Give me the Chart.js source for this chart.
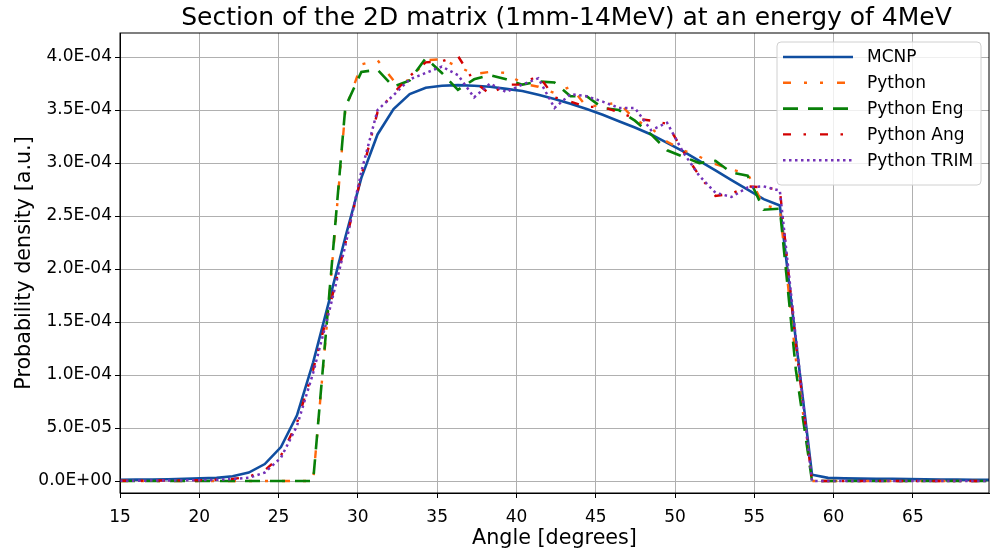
<!DOCTYPE html>
<html>
<head>
<meta charset="utf-8">
<script src="https://cdn.jsdelivr.net/npm/chart.js@4"></script>
<style>
  html, body { margin: 0; padding: 0; background: #fff; }
</style>
</head>
<body>
<canvas id="sectionChart" width="995" height="552"></canvas>
<script>
Chart.defaults.font.family = 'DejaVu Sans';
Chart.defaults.color = '#000';

// angle bins [degrees]
const angles = [
    15.00, 16.01, 17.03, 18.04, 19.06, 20.07, 21.09, 22.10, 23.12, 24.13,
    25.15, 26.16, 27.18, 28.19, 29.21, 30.22, 31.24, 32.25, 33.27, 34.28,
    35.30, 36.31, 37.33, 38.34, 39.36, 40.37, 41.38, 42.40, 43.41, 44.43,
    45.44, 46.46, 47.47, 48.49, 49.50, 50.52, 51.53, 52.55, 53.56, 54.58,
    55.59, 56.61, 57.62, 58.64, 59.65, 60.67, 61.68, 62.70, 63.71, 64.73,
    65.74, 66.76, 67.77, 68.79, 69.80
];

// probability density, in units of 1e-4
const mcnp = [
    0.012, 0.013, 0.015, 0.017, 0.020, 0.025, 0.030, 0.045, 0.080, 0.160,
    0.320, 0.620, 1.120, 1.700, 2.300, 2.860, 3.270, 3.510, 3.650, 3.710,
    3.730, 3.735, 3.730, 3.720, 3.700, 3.680, 3.645, 3.605, 3.560, 3.510,
    3.455, 3.395, 3.335, 3.270, 3.190, 3.110, 3.020, 2.930, 2.840, 2.750,
    2.660, 2.600, 1.330, 0.060, 0.030, 0.025, 0.023, 0.021, 0.020, 0.018,
    0.016, 0.015, 0.013, 0.012, 0.011
];
const python = [
    0, 0, 0, 0, 0, 0, 0, 0, 0, 0,
    0, 0, 0, 1.72, 3.50, 3.93, 3.97, 3.78, 3.78, 3.97,
    3.98, 3.91, 3.84, 3.86, 3.85, 3.75, 3.72, 3.66, 3.72, 3.53,
    3.55, 3.57, 3.41, 3.33, 3.20, 3.12, 3.06, 2.99, 2.94, 2.90,
    2.60, 2.57, 1.15, 0, 0, 0, 0, 0, 0, 0,
    0, 0, 0, 0, 0
];
const pythonEng = [
    0, 0, 0, 0, 0, 0, 0, 0, 0, 0,
    0, 0, 0, 1.75, 3.53, 3.86, 3.88, 3.72, 3.78, 3.99,
    3.85, 3.69, 3.79, 3.83, 3.79, 3.74, 3.77, 3.76, 3.63, 3.63,
    3.52, 3.50, 3.40, 3.27, 3.12, 3.06, 3.00, 3.02, 2.91, 2.88,
    2.56, 2.57, 1.05, 0, 0, 0, 0, 0, 0, 0,
    0, 0, 0, 0, 0
];
const pythonAng = [
    0.003, 0.003, 0.004, 0.005, 0.006, 0.008, 0.012, 0.020, 0.040, 0.100,
    0.240, 0.550, 1.050, 1.630, 2.240, 2.880, 3.480, 3.660, 3.820, 3.950,
    3.960, 4.010, 3.770, 3.650, 3.740, 3.740, 3.830, 3.620, 3.580, 3.530,
    3.530, 3.480, 3.420, 3.400, 3.370, 3.110, 2.880, 2.690, 2.710, 2.780,
    2.770, 2.750, 1.300, 0, 0, 0, 0, 0, 0, 0,
    0, 0, 0, 0, 0
];
const pythonTrim = [
    0.003, 0.003, 0.004, 0.005, 0.006, 0.008, 0.011, 0.018, 0.030, 0.080,
    0.220, 0.520, 1.020, 1.600, 2.220, 2.920, 3.500, 3.640, 3.790, 3.850,
    3.910, 3.830, 3.620, 3.750, 3.670, 3.740, 3.800, 3.520, 3.650, 3.630,
    3.580, 3.520, 3.520, 3.310, 3.380, 3.100, 2.880, 2.720, 2.680, 2.770,
    2.780, 2.740, 1.350, 0, 0, 0, 0, 0, 0, 0,
    0, 0, 0, 0, 0
];

const xTicks = [15, 20, 25, 30, 35, 40, 45, 50, 55, 60, 65];
const yTicks = [0, 0.5e-4, 1.0e-4, 1.5e-4, 2.0e-4, 2.5e-4, 3.0e-4, 3.5e-4, 4.0e-4];

function toPoints(vals) {
    return angles.map((a, i) => ({ x: a, y: vals[i] * 1e-4 }));
}

function sciLabel(v) {
    const [mant, exp] = Number(v).toExponential(1).split('e');
    const sign = exp[0] === '-' ? '-' : '+';
    const digits = exp.replace(/[+-]/, '').padStart(2, '0');
    return mant + 'E' + sign + digits;
}

// matplotlib style legend box inside the axes, upper right
const legendBox = {
    id: 'legendBox',
    afterLayout(chart) {
        // title sits a little right of the axes centre in the original
        chart.titleBlock.left += 12;
        chart.titleBlock.right += 12;
    },
    afterDraw(chart) {
        const { ctx, chartArea } = chart;
        const sets = chart.data.datasets;
        const w = 204, rowH = 25.8;
        const h = 14 + rowH * sets.length;
        const left = chartArea.right - 8 - w;
        const top = chartArea.top + 9;

        ctx.save();
        ctx.beginPath();
        ctx.roundRect(left, top, w, h, 4);
        ctx.fillStyle = 'rgba(255,255,255,0.8)';
        ctx.fill();
        ctx.strokeStyle = '#d0d0d0';
        ctx.lineWidth = 1;
        ctx.stroke();

        ctx.font = '17px "DejaVu Sans"';
        ctx.textBaseline = 'middle';
        sets.forEach((ds, i) => {
            const y = top + 15 + i * rowH;
            ctx.beginPath();
            ctx.setLineDash(ds.borderDash || []);
            ctx.strokeStyle = ds.borderColor;
            ctx.lineWidth = ds.borderWidth;
            ctx.moveTo(left + 6, y);
            ctx.lineTo(left + 76, y);
            ctx.stroke();
            ctx.setLineDash([]);
            ctx.fillStyle = '#000';
            ctx.fillText(ds.label, left + 90, y + 1);
        });
        ctx.restore();
    }
};

// top and right spines
const frame = {
    id: 'frame',
    afterDraw(chart) {
        const { ctx, chartArea } = chart;
        ctx.save();
        ctx.strokeStyle = '#000';
        ctx.lineWidth = 1;
        ctx.strokeRect(chartArea.left, chartArea.top, chartArea.right - chartArea.left, chartArea.bottom - chartArea.top);
        ctx.restore();
    }
};

new Chart(document.getElementById('sectionChart'), {
    type: 'line',
    data: {
        datasets: [
            {
                label: 'MCNP',
                data: toPoints(mcnp),
                borderColor: 'rgb(16, 78, 160)',
                borderWidth: 2.6,
                order: 4
            },
            {
                label: 'Python',
                data: toPoints(python),
                borderColor: 'rgb(255, 102, 10)',
                borderWidth: 2.4,
                borderDash: [8, 13, 3, 13, 3, 14],
                order: 3
            },
            {
                label: 'Python Eng',
                data: toPoints(pythonEng),
                borderColor: 'rgb(8, 128, 8)',
                borderWidth: 2.6,
                borderDash: [15, 10],
                order: 2
            },
            {
                label: 'Python Ang',
                data: toPoints(pythonAng),
                borderColor: 'rgb(210, 0, 0)',
                borderWidth: 2.4,
                borderDash: [8, 12.5, 2.5, 14],
                order: 1
            },
            {
                label: 'Python TRIM',
                data: toPoints(pythonTrim),
                borderColor: 'rgb(116, 50, 184)',
                borderWidth: 2.5,
                borderDash: [2.5, 3.5],
                order: 0
            }
        ]
    },
    options: {
        responsive: false,
        animation: false,
        layout: { padding: { left: 0, right: 6, top: 0, bottom: 0 } },
        elements: {
            point: { radius: 0 },
            line: { tension: 0, borderCapStyle: 'butt' }
        },
        plugins: {
            legend: { display: false },
            tooltip: { enabled: false },
            title: {
                display: true,
                fullSize: false,
                text: 'Section of the 2D matrix (1mm-14MeV) at an energy of 4MeV',
                font: { size: 25, weight: 'normal' },
                color: '#000',
                padding: { top: 3, bottom: 0 }
            }
        },
        scales: {
            x: {
                type: 'linear',
                min: 15,
                max: 69.8,
                afterBuildTicks: scale => { scale.ticks = xTicks.map(v => ({ value: v })); },
                afterFit: scale => { scale.height = 59; },
                ticks: { font: { size: 17 }, color: '#000', padding: 9, maxRotation: 0, autoSkip: false },
                grid: { color: '#b0b0b0', lineWidth: 1, tickColor: '#000', tickLength: 5 },
                border: { color: '#000' },
                title: {
                    display: true,
                    text: 'Angle [degrees]',
                    font: { size: 20.7 },
                    color: '#000',
                    padding: { top: 0, bottom: 1 }
                }
            },
            y: {
                type: 'linear',
                min: -1.13e-5,
                max: 4.227e-4,
                afterBuildTicks: scale => { scale.ticks = yTicks.map(v => ({ value: v })); },
                afterFit: scale => { scale.width = 120; },
                ticks: { font: { size: 17 }, color: '#000', padding: 3, callback: v => sciLabel(v) },
                grid: { color: '#b0b0b0', lineWidth: 1, tickColor: '#000', tickLength: 5 },
                border: { color: '#000' },
                title: {
                    display: true,
                    text: 'Probability density [a.u.]',
                    font: { size: 20.7 },
                    color: '#000',
                    padding: { top: 12, bottom: 0 }
                }
            }
        }
    },
    plugins: [legendBox, frame]
});
</script>
</body>
</html>
